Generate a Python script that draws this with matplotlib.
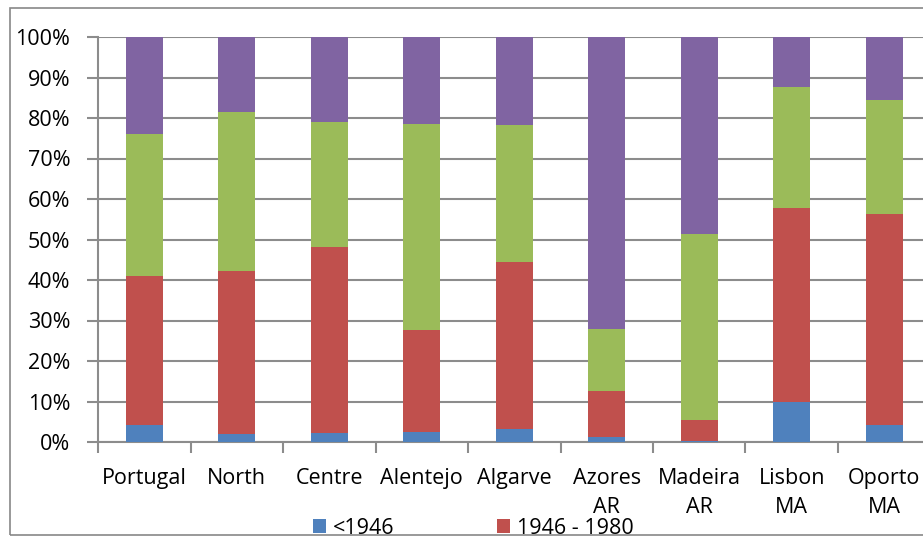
import matplotlib
matplotlib.use("Agg")
import matplotlib.pyplot as plt
from matplotlib.patches import Rectangle, Patch
import numpy as np

categories = ["Portugal", "North", "Centre", "Alentejo", "Algarve",
              "Azores\nAR", "Madeira\nAR", "Lisbon\nMA", "Oporto\nMA"]
series_names = ["<1946", "1946 - 1980", "1981 - 2000", "2001 - 2011"]
s_pre1946 = [4.2, 1.9, 2.1, 2.5, 3.3, 1.2, 0.2, 10.0, 4.2]
s_1946_1980 = [36.8, 40.3, 46.1, 25.2, 41.1, 11.5, 5.3, 47.7, 52.0]
s_1981_2000 = [35.0, 39.3, 30.7, 50.7, 33.9, 15.2, 45.8, 30.0, 28.2]
s_2001_2011 = [24.0, 18.5, 21.1, 21.6, 21.7, 72.1, 48.7, 12.3, 15.6]
yticks = [0, 10, 20, 30, 40, 50, 60, 70, 80, 90, 100]
colors = ["#4F81BD", "#C0504D", "#9BBB59", "#8064A2"]

plt.rcParams['font.family'] = ['Open Sans', 'DejaVu Sans']
FS = 15.5

W, H = 923, 536
fig = plt.figure(figsize=(W/100, H/100), dpi=100)

# outer chart border
fig.patches.append(Rectangle((10/W, 1/H), 1.2, (527)/H, transform=fig.transFigure,
                             fill=False, edgecolor="#888888", linewidth=1.2))

ax = fig.add_axes([98/W, (H-442)/H, (930.5-98)/W, (442-37)/H])
x = np.arange(len(categories))
data = [s_pre1946, s_1946_1980, s_1981_2000, s_2001_2011]
bottom = np.zeros(len(categories))
for vals, c, name in zip(data, colors, series_names):
    v = np.array(vals)
    ax.bar(x, v, 0.4, bottom=bottom, color=c, label=name, zorder=3)
    bottom += v

ax.set_xlim(-0.5, len(categories) - 0.5)
ax.set_ylim(0, 100)
ax.set_yticks(yticks)
ax.set_yticklabels([f"{t}%" for t in yticks], fontsize=FS)
ax.yaxis.grid(True, color="#8c8c8c", linewidth=1.5, zorder=0)
ax.set_xticks(x)
ax.set_xticklabels(categories, fontsize=FS, linespacing=1.55)
ax.set_xticks(np.arange(-0.5, len(categories)), minor=True)
ax.tick_params(axis='x', which='major', length=0, pad=18.5)
ax.tick_params(axis='x', which='minor', length=8, width=1.5, color="#8c8c8c")
ax.tick_params(axis='y', length=8, width=1.5, color="#8c8c8c", pad=12)
for s in ["top", "right"]:
    ax.spines[s].set_visible(False)
for s in ["left", "bottom"]:
    ax.spines[s].set_color("#8c8c8c")
    ax.spines[s].set_linewidth(1.5)

handles = [Patch(facecolor=c) for c in colors]
order = [0, 2, 1, 3]
fig.legend([handles[i] for i in order], [series_names[i] for i in order],
           ncol=2, loc="upper left",
           bbox_to_anchor=(313/W, (H-518)/H), frameon=False, fontsize=FS,
           handlelength=0.62, handleheight=0.62, handletextpad=0.3,
           columnspacing=2.2, borderaxespad=0, borderpad=0)

fig.savefig("out.png", dpi=100)
